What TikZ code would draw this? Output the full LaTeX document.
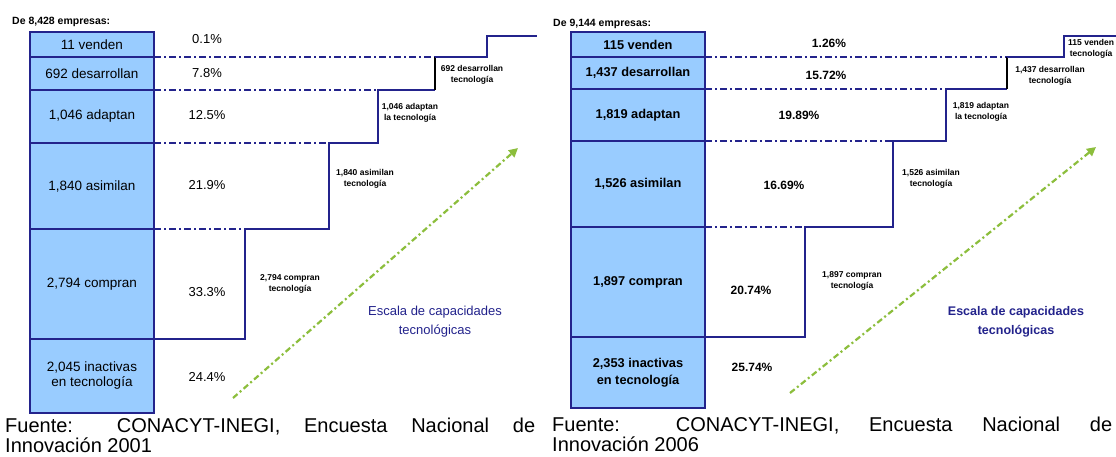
\documentclass[tikz,border=0pt]{standalone}
\usepackage{fontspec}
\setmainfont{Liberation Sans}
\usetikzlibrary{positioning,arrows.meta}
\definecolor{navy}{RGB}{35,35,140}
\definecolor{boxblue}{RGB}{153,204,255}
\definecolor{lime}{RGB}{140,190,60}
\begin{document}
\begin{tikzpicture}[x=1pt,y=-1pt,
  row/.style={draw=navy,line width=1.5pt,fill=boxblue,minimum width=124pt,outer sep=0pt,inner sep=1pt,align=center,font=\fontsize{13.5}{15}\selectfont},
  rowb/.style={row,minimum width=134pt,font=\bfseries\fontsize{12.8}{17}\selectfont},
  pct/.style={font=\fontsize{13}{15}\selectfont},
  pctb/.style={font=\bfseries\fontsize{12}{14}\selectfont},
  tier/.style={draw=navy,line width=2pt,dash pattern=on 7pt off 3pt on 2pt off 3pt},
  stair/.style={draw=navy,line width=2.2pt,line join=miter},
  stairtext/.style={align=center,inner sep=0pt,font=\bfseries\fontsize{8.5}{11}\selectfont},
  escala/.style={align=center,text=navy,font=\fontsize{13}{19}\selectfont},
  rise/.style={draw=lime,line width=2.2pt,dash pattern=on 6pt off 3pt on 2pt off 3pt,-{Triangle[length=9pt,width=9pt]}},
  heading/.style={anchor=base west,inner sep=0pt,font=\bfseries\fontsize{10.5}{12}\selectfont},
  fuente/.style={anchor=base west,inner sep=0pt,font=\fontsize{20}{22}\selectfont}]
\path[fill=white,use as bounding box] (0,0) rectangle (1116,457);

\node[heading] (t1) at (12,25) {De 8,428 empresas:};
\node[row,minimum height=25pt,anchor=north west] (l1) at (30,32) {11 venden};
\node[row,minimum height=33pt,below=0pt of l1] (l2) {692 desarrollan};
\node[row,minimum height=53pt,below=0pt of l2] (l3) {1,046 adaptan};
\node[row,minimum height=86pt,below=0pt of l3] (l4) {1,840 asimilan};
\node[row,minimum height=110pt,below=0pt of l4] (l5) {2,794 compran};
\node[row,minimum height=74pt,below=0pt of l5] (l6) {2,045 inactivas\\en tecnología};

\node[pct] (p1) at (207,39) {0.1\%};
\node[pct] (p2) at (207,73) {7.8\%};
\node[pct] (p3) at (207,115) {12.5\%};
\node[pct] (p4) at (207,185) {21.9\%};
\node[pct] (p5) at (207,292) {33.3\%};
\node[pct] (p6) at (207,377) {24.4\%};

\coordinate (a1) at (245,339);
\coordinate (a2) at (245,229);
\coordinate (a3) at (329,229);
\coordinate (a4) at (329,143);
\coordinate (a5) at (378,143);
\coordinate (a6) at (378,90);
\coordinate (a7) at (435,90);
\coordinate (a8) at (435,57);
\coordinate (a9) at (487,57);
\coordinate (a10) at (487,36);
\coordinate (a11) at (537,36);
\draw[tier] (l1.south east) -- (a8);
\draw[tier] (l2.south east) -- (a6);
\draw[tier] (l3.south east) -- (a4);
\draw[tier] (l4.south east) -- (a2);
\draw[stair] (l5.south east) -- (a1) -- (a2) -- (a3) -- (a4) -- (a5) -- (a6) -- (a7);
\draw[line width=1.6pt] (a7) -- (a8);
\draw[stair] (a8) -- (a9) -- (a10) -- (a11);

\node[stairtext] (s1) at (290,284) {2,794 compran\\tecnología};
\node[stairtext] (s2) at (365,179) {1,840 asimilan\\tecnología};
\node[stairtext] (s3) at (410,113) {1,046 adaptan\\la tecnología};
\node[stairtext] (s4) at (472,75) {692 desarrollan\\tecnología};

\coordinate (g1) at (233,398);
\coordinate (g2) at (518,148);
\draw[rise] (g1) -- (g2);
\node[escala] (e1) at (435,322) {Escala de capacidades\\tecnológicas};

\node[fuente] (f1) at (5,432) {\makebox[530pt][s]{Fuente: CONACYT-INEGI, Encuesta Nacional de}};
\node[fuente] (f2) at (5,452) {Innovación 2001};

\node[heading] (t2) at (553,27) {De 9,144 empresas:};
\node[rowb,minimum height=25pt,anchor=north west] (r1) at (571,32) {115 venden};
\node[rowb,minimum height=32pt,below=0pt of r1] (r2) {1,437 desarrollan};
\node[rowb,minimum height=52pt,below=0pt of r2] (r3) {1,819 adaptan};
\node[rowb,minimum height=86pt,below=0pt of r3] (r4) {1,526 asimilan};
\node[rowb,minimum height=110pt,below=0pt of r4] (r5) {1,897 compran};
\node[rowb,minimum height=71pt,below=0pt of r5] (r6) {2,353 inactivas\\en tecnología};

\node[pctb] (q1) at (829,43) {1.26\%};
\node[pctb] (q2) at (826,75) {15.72\%};
\node[pctb] (q3) at (799,115) {19.89\%};
\node[pctb] (q4) at (784,185) {16.69\%};
\node[pctb] (q5) at (751,290) {20.74\%};
\node[pctb] (q6) at (752,367) {25.74\%};

\coordinate (b1) at (805,337);
\coordinate (b2) at (805,227);
\coordinate (b3) at (893,227);
\coordinate (b4) at (893,141);
\coordinate (b5) at (946,141);
\coordinate (b6) at (946,89);
\coordinate (b7) at (1007,89);
\coordinate (b8) at (1007,57);
\coordinate (b9) at (1064,57);
\coordinate (b10) at (1064,36);
\coordinate (b11) at (1116,36);
\draw[tier] (r1.south east) -- (b8);
\draw[tier] (r2.south east) -- (b6);
\draw[tier] (r3.south east) -- (b4);
\draw[tier] (r4.south east) -- (b2);
\draw[stair] (r5.south east) -- (b1) -- (b2) -- (b3) -- (b4) -- (b5) -- (b6) -- (b7);
\draw[line width=1.6pt] (b7) -- (b8);
\draw[stair] (b8) -- (b9) -- (b10) -- (b11);

\node[stairtext] (u1) at (852,281) {1,897 compran\\tecnología};
\node[stairtext] (u2) at (931,179) {1,526 asimilan\\tecnología};
\node[stairtext] (u3) at (981,112) {1,819 adaptan\\la tecnología};
\node[stairtext] (u4) at (1050,76) {1,437 desarrollan\\tecnología};
\node[stairtext,anchor=west] (u5) at (1068,49) {115 venden\\tecnología};

\coordinate (h1) at (790,393);
\coordinate (h2) at (1096,147);
\draw[rise] (h1) -- (h2);
\node[escala,font=\bfseries\fontsize{12.5}{19}\selectfont] (e2) at (1016,322) {Escala de capacidades\\tecnológicas};

\node[fuente] (f3) at (552,431) {\makebox[560pt][s]{Fuente: CONACYT-INEGI, Encuesta Nacional de}};
\node[fuente] (f4) at (552,451) {Innovación 2006};
\end{tikzpicture}
\end{document}
